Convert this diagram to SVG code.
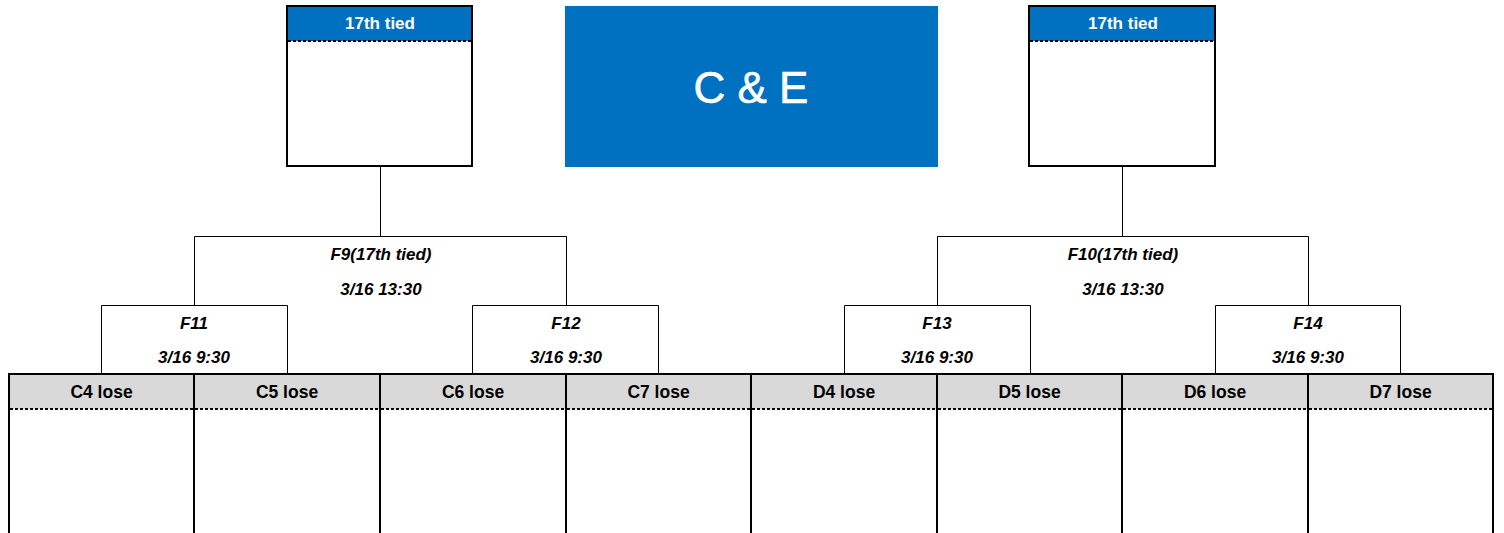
<svg xmlns="http://www.w3.org/2000/svg" width="1504" height="533" viewBox="0 0 1504 533">
<style>
.bg{fill:#fff}
.box{fill:#fff;stroke:#000;stroke-width:2}
.edge{fill:none;stroke:#000;stroke-width:2}
.hdrBlue{fill:#0070c0}
.hdrGray{fill:#d9d9d9}
.dot{stroke:#000;stroke-width:2;stroke-dasharray:3 2;fill:none}
.thin{fill:none;stroke:#000;stroke-width:1}
.wh{font-family:"Liberation Sans",Arial,sans-serif;font-weight:bold;fill:#fff;text-anchor:middle}
.lbl{font-family:"Liberation Sans",Arial,sans-serif;font-weight:bold;font-size:17.5px;fill:#000;text-anchor:middle}
.it{font-family:"Liberation Sans",Arial,sans-serif;font-weight:bold;font-style:italic;font-size:17px;fill:#000;text-anchor:middle}
</style>
<rect class="bg" x="0" y="0" width="1504" height="533"/>

<g id="connectors">
<line class="thin" x1="380.5" y1="166" x2="380.5" y2="236.5"/>
<line class="thin" x1="1122.5" y1="166" x2="1122.5" y2="236.5"/>
</g>

<g id="title">
<rect x="565" y="6" width="373" height="161" fill="#0070c0"/>
<text class="wh" x="751" y="103" font-size="44" style="font-weight:normal;stroke:#fff;stroke-width:0.6">C &amp; E</text>
</g>

<g id="top-left">
<rect class="box" x="287" y="6" width="185" height="160"/>
<rect class="hdrBlue" x="288" y="7" width="183" height="34"/>
<line class="dot" x1="288" y1="41" x2="471" y2="41"/>
<text class="wh" x="380" y="29" font-size="17">17th tied</text>
</g>

<g id="top-right">
<rect class="box" x="1029" y="6" width="186" height="160"/>
<rect class="hdrBlue" x="1030" y="7" width="184" height="34"/>
<line class="dot" x1="1030" y1="41" x2="1214" y2="41"/>
<text class="wh" x="1123" y="29" font-size="17">17th tied</text>
</g>

<g id="F9">
<path class="thin" d="M194.5,305 V236.5 H566.5 V305"/>
<text class="it" x="381" y="260">F9(17th tied)</text>
<text class="it" x="381" y="295">3/16 13:30</text>
</g>
<g id="F10">
<path class="thin" d="M937.5,305 V236.5 H1308.5 V305"/>
<text class="it" x="1123" y="260">F10(17th tied)</text>
<text class="it" x="1123" y="295">3/16 13:30</text>
</g>

<g id="F11">
<path class="thin" d="M101.5,374 V305.5 H287.5 V374"/>
<text class="it" x="194" y="329">F11</text>
<text class="it" x="194" y="363">3/16 9:30</text>
</g>
<g id="F12">
<path class="thin" d="M472.5,374 V305.5 H658.5 V374"/>
<text class="it" x="566" y="329">F12</text>
<text class="it" x="566" y="363">3/16 9:30</text>
</g>
<g id="F13">
<path class="thin" d="M844.5,374 V305.5 H1030.5 V374"/>
<text class="it" x="937" y="329">F13</text>
<text class="it" x="937" y="363">3/16 9:30</text>
</g>
<g id="F14">
<path class="thin" d="M1215.5,374 V305.5 H1400.5 V374"/>
<text class="it" x="1308" y="329">F14</text>
<text class="it" x="1308" y="363">3/16 9:30</text>
</g>

<g id="C4">
<rect class="hdrGray" x="9" y="374" width="185" height="35"/>
<path class="edge" d="M9,540 V374 H194 V540"/>
<line class="dot" x1="10" y1="409" x2="193" y2="409"/>
<text class="lbl" x="101.5" y="398">C4 lose</text>
</g>
<g id="C5">
<rect class="hdrGray" x="194" y="374" width="186" height="35"/>
<path class="edge" d="M194,540 V374 H380 V540"/>
<line class="dot" x1="195" y1="409" x2="379" y2="409"/>
<text class="lbl" x="287" y="398">C5 lose</text>
</g>
<g id="C6">
<rect class="hdrGray" x="380" y="374" width="186" height="35"/>
<path class="edge" d="M380,540 V374 H566 V540"/>
<line class="dot" x1="381" y1="409" x2="565" y2="409"/>
<text class="lbl" x="473" y="398">C6 lose</text>
</g>
<g id="C7">
<rect class="hdrGray" x="566" y="374" width="185" height="35"/>
<path class="edge" d="M566,540 V374 H751 V540"/>
<line class="dot" x1="567" y1="409" x2="750" y2="409"/>
<text class="lbl" x="658.5" y="398">C7 lose</text>
</g>
<g id="D4">
<rect class="hdrGray" x="751" y="374" width="186" height="35"/>
<path class="edge" d="M751,540 V374 H937 V540"/>
<line class="dot" x1="752" y1="409" x2="936" y2="409"/>
<text class="lbl" x="844" y="398">D4 lose</text>
</g>
<g id="D5">
<rect class="hdrGray" x="937" y="374" width="185" height="35"/>
<path class="edge" d="M937,540 V374 H1122 V540"/>
<line class="dot" x1="938" y1="409" x2="1121" y2="409"/>
<text class="lbl" x="1029.5" y="398">D5 lose</text>
</g>
<g id="D6">
<rect class="hdrGray" x="1122" y="374" width="186" height="35"/>
<path class="edge" d="M1122,540 V374 H1308 V540"/>
<line class="dot" x1="1123" y1="409" x2="1307" y2="409"/>
<text class="lbl" x="1215" y="398">D6 lose</text>
</g>
<g id="D7">
<rect class="hdrGray" x="1308" y="374" width="185" height="35"/>
<path class="edge" d="M1308,540 V374 H1493 V540"/>
<line class="dot" x1="1309" y1="409" x2="1492" y2="409"/>
<text class="lbl" x="1400.5" y="398">D7 lose</text>
</g>
</svg>
